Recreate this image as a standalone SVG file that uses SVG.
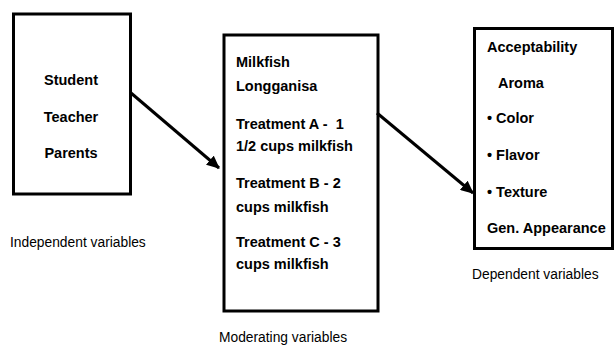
<svg xmlns="http://www.w3.org/2000/svg" width="616" height="345" viewBox="0 0 616 345">
<style>
.box{fill:#fff;stroke:#000;stroke-width:3}
.b{font-family:"Liberation Sans",Arial,sans-serif;font-weight:bold;font-size:14.5px;fill:#000}
.l{font-family:"Liberation Sans",Arial,sans-serif;font-size:13.8px;fill:#000}
.c{stroke:#000;stroke-width:3;fill:none}
</style>
<defs>
<marker id="ah" markerUnits="userSpaceOnUse" markerWidth="14" markerHeight="12" refX="12" refY="6" orient="auto">
<path d="M0,0 L13,6 L0,12 Z" fill="#000"/>
</marker>
</defs>
<rect width="616" height="345" fill="#fff"/>
<g id="independent">
<rect class="box" x="13.5" y="14" width="117" height="180"/>
<text class="b" x="71" y="85" text-anchor="middle">Student</text>
<text class="b" x="71" y="122" text-anchor="middle">Teacher</text>
<text class="b" x="71" y="158" text-anchor="middle">Parents</text>
</g>
<g id="moderating">
<rect class="box" x="224" y="35" width="154" height="276"/>
<text class="b" x="236" y="67">Milkfish</text>
<text class="b" x="236" y="91">Longganisa</text>
<text class="b" x="236" y="129" xml:space="preserve">Treatment A -  1</text>
<text class="b" x="236" y="151">1/2 cups milkfish</text>
<text class="b" x="236" y="188">Treatment B - 2</text>
<text class="b" x="236" y="212">cups milkfish</text>
<text class="b" x="236" y="247">Treatment C - 3</text>
<text class="b" x="236" y="269">cups milkfish</text>
</g>
<g id="dependent">
<rect class="box" x="474.5" y="28.5" width="138" height="220"/>
<text class="b" x="487" y="52">Acceptability</text>
<text class="b" x="498" y="88">Aroma</text>
<text class="b" x="487" y="123">• Color</text>
<text class="b" x="487" y="160">• Flavor</text>
<text class="b" x="487" y="197">• Texture</text>
<text class="b" x="487" y="233">Gen. Appearance</text>
</g>
<g id="labels">
<text class="l" x="10" y="247">Independent variables</text>
<text class="l" x="219" y="342">Moderating variables</text>
<text class="l" x="472" y="279">Dependent variables</text>
</g>
<g id="connectors">
<line class="c" x1="131" y1="93" x2="219" y2="168" marker-end="url(#ah)"/>
<line class="c" x1="377" y1="113" x2="473" y2="193" marker-end="url(#ah)"/>
</g>
</svg>
